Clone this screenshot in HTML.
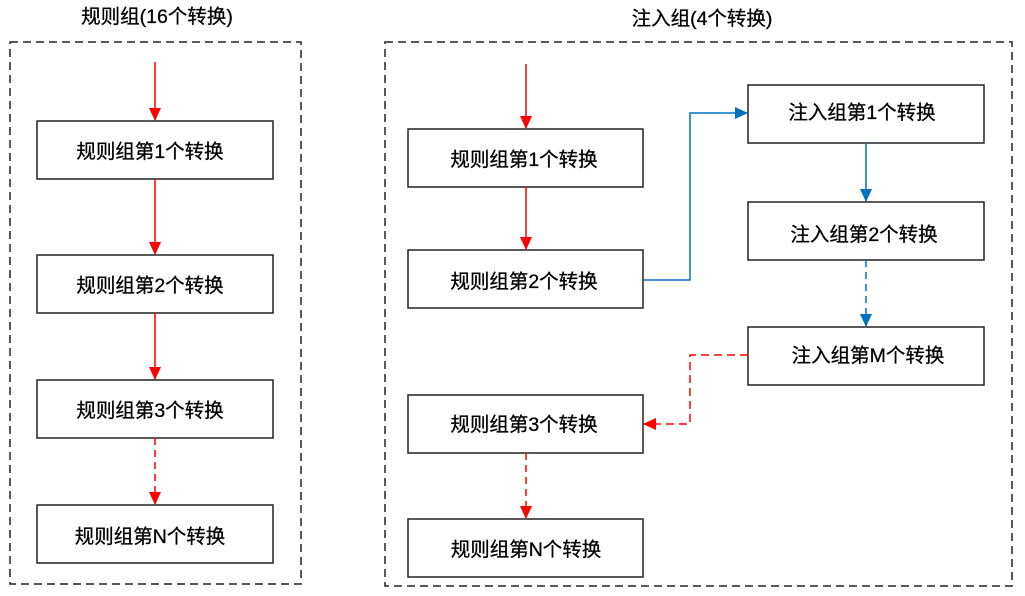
<!DOCTYPE html>
<html><head><meta charset="utf-8"><style>
html,body{margin:0;padding:0;background:#fff;}
svg text{font-family:"Liberation Sans","Noto Sans CJK SC",sans-serif;font-size:19.5px;fill:#000;stroke:#000;stroke-width:0.3;text-anchor:middle;dominant-baseline:central;}
</style></head><body>
<svg width="1025" height="591" viewBox="0 0 1025 591" xmlns="http://www.w3.org/2000/svg">
<defs>
<marker id="r" markerWidth="14" markerHeight="14" refX="12" refY="6" orient="auto" markerUnits="userSpaceOnUse"><path d="M0,0 L13,6 L0,12 z" fill="#f00"/></marker>
<marker id="b" markerWidth="14" markerHeight="14" refX="12" refY="6" orient="auto" markerUnits="userSpaceOnUse"><path d="M0,0 L13,6 L0,12 z" fill="#0070c0"/></marker>
</defs>
<text x="157" y="17">规则组(16个转换)</text>
<text x="702" y="19">注入组(4个转换)</text>
<rect x="10" y="42" width="291" height="542" fill="none" stroke="#222" stroke-width="1.5" stroke-dasharray="8,5"/>
<rect x="385" y="42" width="627" height="544" fill="none" stroke="#222" stroke-width="1.5" stroke-dasharray="8,5"/>
<g fill="#fff" stroke="#222" stroke-width="1.5">
<rect x="37" y="121" width="236" height="58"/>
<rect x="37" y="255" width="236" height="58"/>
<rect x="37" y="380" width="236" height="58"/>
<rect x="37" y="505" width="236" height="58"/>
<rect x="408" y="129" width="235" height="58"/>
<rect x="408" y="250" width="235" height="58"/>
<rect x="408" y="395" width="235" height="58"/>
<rect x="408" y="519" width="235" height="58"/>
<rect x="748" y="85" width="236" height="58"/>
<rect x="748" y="202" width="236" height="58"/>
<rect x="748" y="327" width="236" height="58"/>
</g>
<text x="150" y="152">规则组第1个转换</text>
<text x="150" y="286">规则组第2个转换</text>
<text x="150" y="411">规则组第3个转换</text>
<text x="150" y="537">规则组第N个转换</text>
<text x="524" y="160">规则组第1个转换</text>
<text x="524" y="282">规则组第2个转换</text>
<text x="524" y="425">规则组第3个转换</text>
<text x="526" y="550">规则组第N个转换</text>
<text x="862" y="113">注入组第1个转换</text>
<text x="864" y="235">注入组第2个转换</text>
<text x="868" y="356">注入组第M个转换</text>
<g fill="none" stroke-width="1.5">
<line x1="155" y1="62" x2="155" y2="120" stroke="#f00" marker-end="url(#r)"/>
<line x1="155" y1="179" x2="155" y2="254" stroke="#f00" marker-end="url(#r)"/>
<line x1="155" y1="313" x2="155" y2="379" stroke="#f00" marker-end="url(#r)"/>
<line x1="155" y1="438" x2="155" y2="504" stroke="#f00" stroke-dasharray="7,5" marker-end="url(#r)"/>
<line x1="526" y1="64" x2="526" y2="128" stroke="#f00" marker-end="url(#r)"/>
<line x1="526" y1="187" x2="526" y2="249" stroke="#f00" marker-end="url(#r)"/>
<line x1="526" y1="453" x2="526" y2="518" stroke="#f00" stroke-dasharray="7,5" marker-end="url(#r)"/>
<polyline points="643,280 690,280 690,113 747,113" stroke="#0070c0" marker-end="url(#b)"/>
<line x1="866" y1="143" x2="866" y2="201" stroke="#0070c0" marker-end="url(#b)"/>
<line x1="866" y1="260" x2="866" y2="326" stroke="#0070c0" stroke-dasharray="7,5" marker-end="url(#b)"/>
<polyline points="748,355 690,355 690,424 644,424" stroke="#f00" stroke-dasharray="8,5" marker-end="url(#r)"/>
</g>
</svg>
</body></html>
